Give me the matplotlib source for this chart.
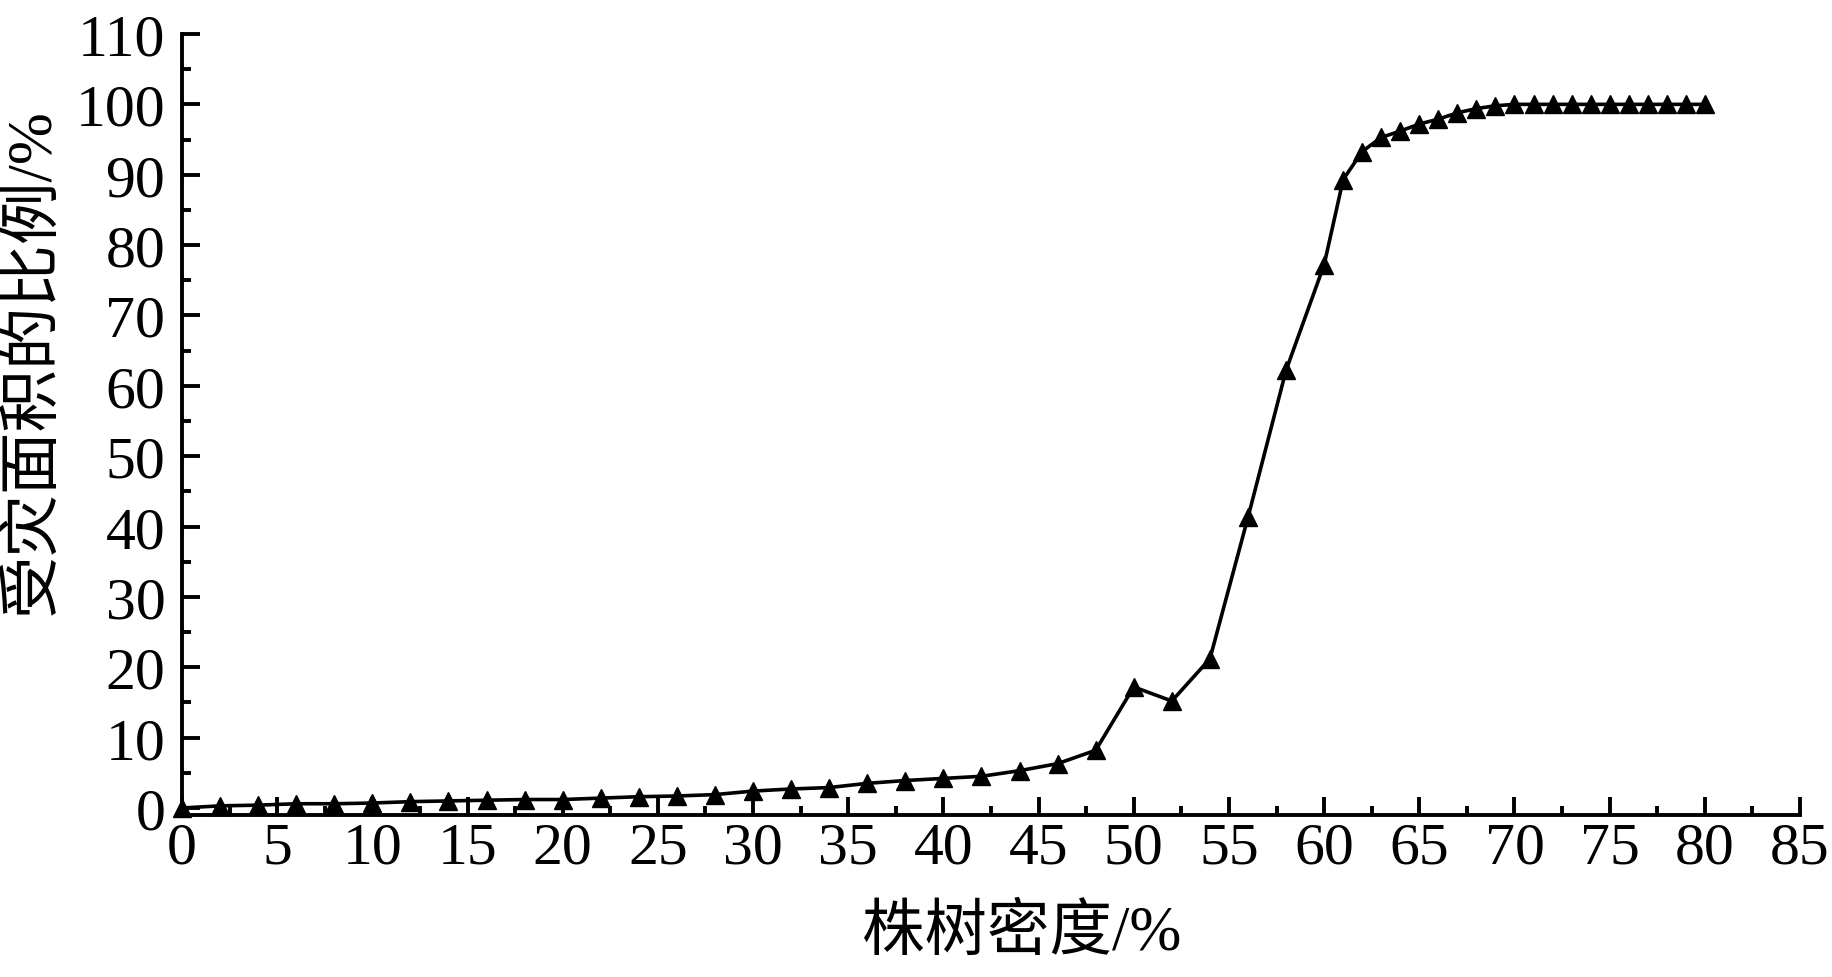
import matplotlib
matplotlib.use("Agg")
import matplotlib.pyplot as plt
from matplotlib.ticker import MultipleLocator

# data
density = [0, 2, 4, 6, 8, 10, 12, 14, 16, 18, 20, 22, 24, 26, 28, 30, 32, 34, 36, 38,
           40, 42, 44, 46, 48, 50, 52, 54, 56, 58, 60, 61, 62, 63, 64, 65, 66, 67, 68, 69,
           70, 71, 72, 73, 74, 75, 76, 77, 78, 79, 80]
affected = [0, 0.3, 0.4, 0.6, 0.6, 0.7, 0.9, 1.0, 1.1, 1.2, 1.2, 1.4, 1.6, 1.7, 1.9, 2.4, 2.7, 2.9, 3.5, 3.9,
            4.2, 4.5, 5.3, 6.3, 8.2, 17.2, 15.2, 21.2, 41.3, 62.2, 77.2, 89.3, 93.3, 95.3, 96.2, 97.2, 97.9, 98.8, 99.4, 99.8,
            100, 100, 100, 100, 100, 100, 100, 100, 100, 100, 100]
x_label = "株树密度/%"
y_label = "受灾面积的比例/%"

fam = ['Liberation Serif', 'Noto Sans CJK SC']
plt.rcParams['font.family'] = fam

W, H = 1832, 978
fig = plt.figure(figsize=(W / 100, H / 100), dpi=100)
left, right, top, bottom = 182, 1800, 35, 816
ax = fig.add_axes([left / W, 1 - bottom / H, (right - left) / W, (bottom - top) / H])

ax.plot(density, affected, color='black', lw=2.6, marker='^', ms=13.5, mec='black', mfc='black',
        clip_on=False, zorder=3)

ax.set_xlim(0, 85)
ax.set_ylim(-1.0, 110)
ax.xaxis.set_major_locator(MultipleLocator(5))
ax.xaxis.set_minor_locator(MultipleLocator(2.5))
ax.yaxis.set_major_locator(MultipleLocator(10))
ax.yaxis.set_minor_locator(MultipleLocator(5))

for s in ['top', 'right']:
    ax.spines[s].set_visible(False)
for s in ['left', 'bottom']:
    ax.spines[s].set_linewidth(2.8)

ax.tick_params(which='major', direction='in', length=13, width=2.8, labelsize=43)
ax.tick_params(which='minor', direction='in', length=6.5, width=2.8)
ax.tick_params(axis='x', which='major', pad=5)
ax.tick_params(axis='y', which='major', pad=12)

ax.set_xlabel(x_label, fontsize=45, va='center')
ax.xaxis.set_label_coords((1022 - left) / (right - left), -(935 - bottom) / (bottom - top))
ax.set_ylabel(y_label, fontsize=45, va='center')
ax.yaxis.set_label_coords(-(left - 35) / (right - left), (bottom - 362) / (bottom - top))

fig.savefig("out.png", dpi=100)
